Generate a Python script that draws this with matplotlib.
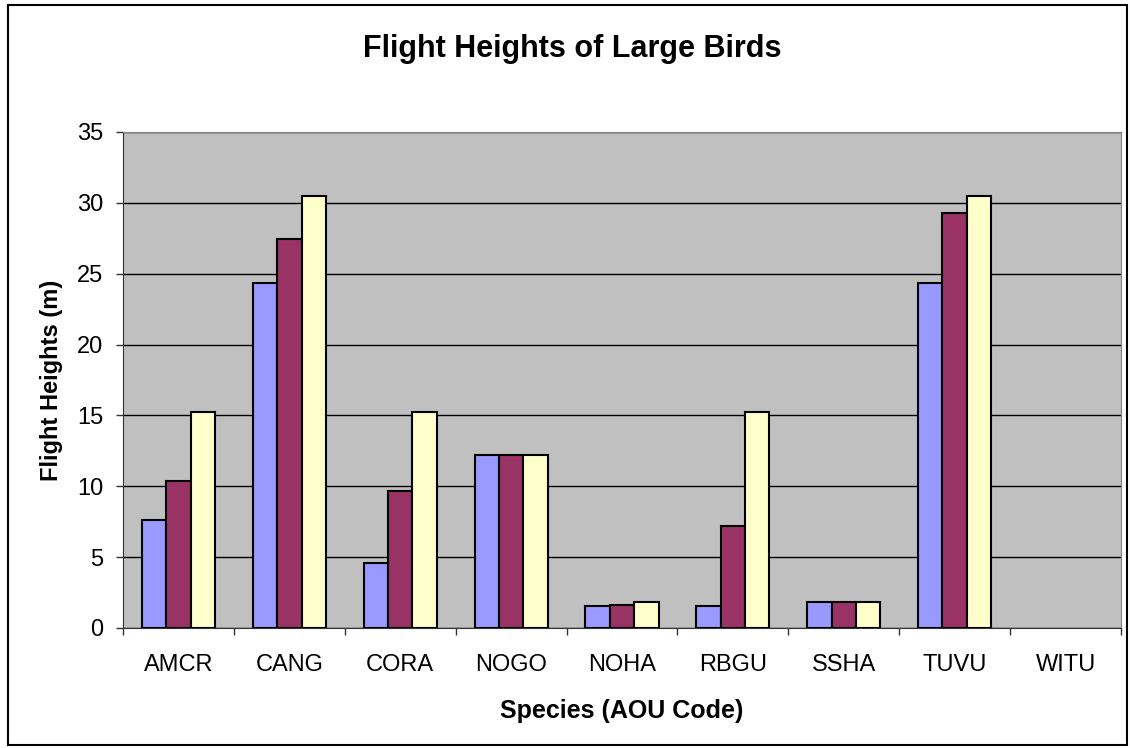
import matplotlib.pyplot as plt
import numpy as np
from matplotlib.patches import Rectangle

plt.rcParams['font.family'] = ['Liberation Sans', 'DejaVu Sans']

species = ['AMCR', 'CANG', 'CORA', 'NOGO', 'NOHA', 'RBGU', 'SSHA', 'TUVU', 'WITU']
low = [7.62, 24.38, 4.57, 12.19, 1.52, 1.52, 1.83, 24.38, 0]
mid = [10.36, 27.43, 9.66, 12.19, 1.65, 7.2, 1.83, 29.26, 0]
high = [15.24, 30.48, 15.24, 12.19, 1.83, 15.24, 1.83, 30.48, 0]

colors = ['#9999FF', '#993366', '#FFFFCC']

fig = plt.figure(figsize=(11.3, 7.48), dpi=100)
ax = fig.add_axes([123 / 1130, 1 - 628 / 748, 998 / 1130, 496 / 748])
ax.set_facecolor('#C0C0C0')

x = np.arange(len(species))
w = 0.22
for i, vals in enumerate([low, mid, high]):
    # zero values: no bar at all (as in the original)
    h = np.array(vals, dtype=float)
    h[h == 0] = np.nan
    ax.bar(x + (i - 1) * w, h, w, color=colors[i], edgecolor='black', linewidth=1.5, zorder=3)

ax.set_xlim(-0.5, len(species) - 0.5)
ax.set_ylim(0, 35)
ax.set_yticks(range(0, 36, 5))
ax.yaxis.grid(True, color='black', linewidth=1, zorder=0)
ax.set_axisbelow(True)

ax.set_xticks(x)
ax.set_xticklabels(species)
ax.set_xticks(np.arange(-0.5, len(species)), minor=True)
ax.tick_params(axis='x', which='major', length=0, pad=19, labelsize=17)
ax.tick_params(axis='x', which='minor', length=5, width=1, direction='out', color='#333333')
ax.tick_params(axis='y', length=5, width=1, direction='out', labelsize=17, pad=9, color='#333333')

for s in ['top', 'right']:
    ax.spines[s].set_color('#808080')
for s in ['left', 'bottom']:
    ax.spines[s].set_color('#333333')

# title sits centred on the whole chart, not on the plot area
ax.set_title('Flight Heights of Large Birds', fontsize=22, fontweight='bold', pad=54, x=0.45)
ax.set_xlabel('Species (AOU Code)', fontsize=18, fontweight='bold', labelpad=16)
ax.set_ylabel('Flight Heights (m)', fontsize=17, fontweight='bold', labelpad=10)

fig.patches.append(Rectangle((8 / 1130, 3 / 748), 1119 / 1130, 740 / 748, transform=fig.transFigure,
                             fill=False, edgecolor='black', linewidth=1.5))

fig.savefig('out.png', dpi=100)
